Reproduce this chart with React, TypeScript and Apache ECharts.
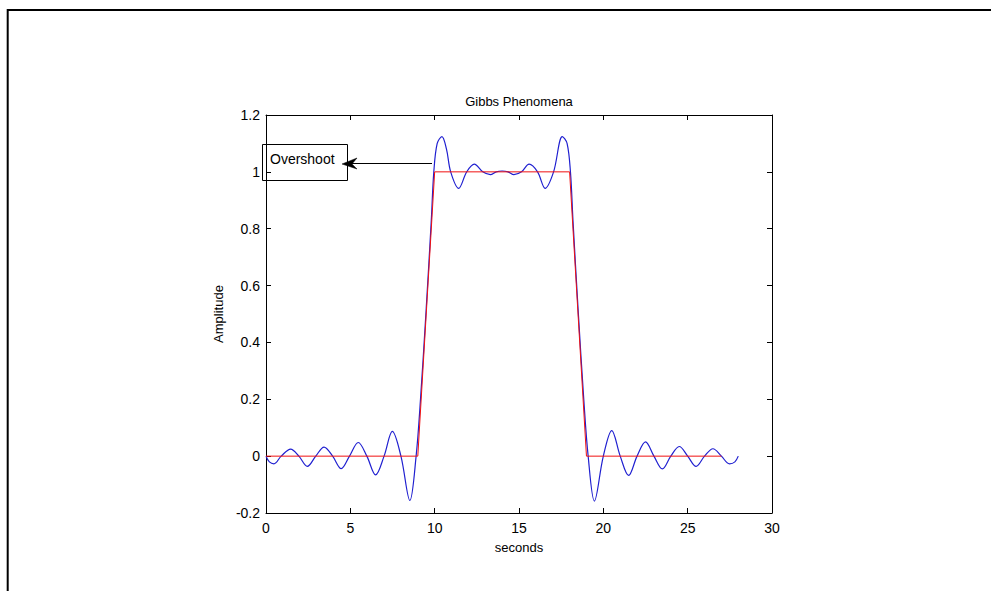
import React, { useEffect, useRef } from "react";
import * as echarts from "echarts";

const xTicks = [0, 5, 10, 15, 20, 25, 30];
const yTicks = [-0.2, 0, 0.2, 0.4, 0.6, 0.8, 1, 1.2];

// ideal (red) pulse
const pulseX = [0, 9, 10, 18, 19, 27];
const pulseY = [0, 0, 1, 1, 0, 0];

// Fourier approximation (blue)
const approxX = [
  0, 0.2, 0.47, 0.9, 1.46, 1.95, 2.45, 2.95, 3.44, 3.95, 4.46, 4.95, 5.47, 5.98,
  6.5, 7.0, 7.49, 8.0, 8.53, 8.9, 9.16, 9.5, 9.8, 9.95, 10.15, 10.43, 10.7,
  10.95, 11.42, 11.9, 12.35, 12.85, 13.3, 13.65, 14.0, 14.35, 14.7, 15.15, 15.6,
  16.1, 16.55, 17.05, 17.57, 17.85, 18.05, 18.2, 18.5, 18.84, 19.1, 19.47, 20.0,
  20.5, 21.0, 21.5, 22.0, 22.5, 23.0, 23.5, 24.0, 24.5, 25.0, 25.5, 26.0, 26.5,
  27.0, 27.48, 27.8, 28.0,
];
const approxY = [
  0, -0.02, -0.027, 0, 0.025, 0, -0.036, 0, 0.032, 0, -0.044, 0, 0.048, 0,
  -0.066, 0, 0.087, 0, -0.156, 0, 0.2, 0.52, 0.83, 1.0, 1.1, 1.124, 1.08,
  1.0, 0.942, 1.0, 1.027, 1.0, 0.99, 1.0, 1.003, 1.0, 0.99, 1.0, 1.027,
  1.0, 0.942, 1.0, 1.124, 1.1, 1.0, 0.83, 0.52, 0.2, 0, -0.158, 0,
  0.09, 0, -0.068, 0, 0.05, 0, -0.045, 0, 0.034, 0, -0.036, 0, 0.026,
  0, -0.027, -0.02, 0,
];

const FONT = "'Liberation Sans', Arial, sans-serif";

export default function App() {
  const ref = useRef<HTMLDivElement>(null);
  useEffect(() => {
    if (!ref.current) return;
    const chart = echarts.init(ref.current, null, { renderer: "svg" });
    const fmt = (v: number) => String(Math.round(v * 10) / 10);
    const axisCommon = {
      axisLine: { show: true, onZero: false, lineStyle: { color: "#000", width: 1 } },
      axisTick: { show: true, inside: true, length: 5, lineStyle: { color: "#000" } },
      splitLine: { show: false },
    };
    chart.setOption({
      animation: false,
      backgroundColor: "#fff",
      textStyle: { fontFamily: FONT },
      grid: { left: 266, top: 115, width: 506, height: 398 },
      xAxis: [
        {
          type: "value",
          min: xTicks[0],
          max: xTicks[xTicks.length - 1],
          interval: 5,
          position: "bottom",
          ...axisCommon,
          axisLabel: { color: "#000", fontSize: 14, margin: 8, fontFamily: FONT, formatter: fmt },
          name: "seconds",
          nameLocation: "middle",
          nameGap: 28,
          nameTextStyle: { color: "#000", fontSize: 13, fontFamily: FONT },
        },
        {
          type: "value",
          min: xTicks[0],
          max: xTicks[xTicks.length - 1],
          interval: 5,
          position: "top",
          ...axisCommon,
          axisLabel: { show: false },
        },
      ],
      yAxis: [
        {
          type: "value",
          min: yTicks[0],
          max: yTicks[yTicks.length - 1],
          interval: 0.2,
          position: "left",
          ...axisCommon,
          axisLabel: { color: "#000", fontSize: 14, margin: 6, fontFamily: FONT, formatter: fmt },
          name: "Amplitude",
          nameLocation: "middle",
          nameGap: 41,
          nameRotate: 90,
          nameTextStyle: { color: "#000", fontSize: 13, fontFamily: FONT },
        },
        {
          type: "value",
          min: yTicks[0],
          max: yTicks[yTicks.length - 1],
          interval: 0.2,
          position: "right",
          ...axisCommon,
          axisLabel: { show: false },
        },
      ],
      series: [
        {
          type: "line",
          data: approxX.map((x, i) => [x, approxY[i]]),
          smooth: 0.35,
          showSymbol: false,
          lineStyle: { color: "#1f1fd0", width: 1.2 },
          z: 2,
        },
        {
          type: "line",
          data: pulseX.map((x, i) => [x, pulseY[i]]),
          showSymbol: false,
          lineStyle: { color: "#f01010", width: 1 },
          z: 3,
        },
      ],
      graphic: [
        {
          type: "polyline",
          shape: { points: [[7.7, 591], [7.7, 10], [991, 10]] },
          style: { stroke: "#000", lineWidth: 2, fill: null },
        },
        {
          type: "text",
          x: 519,
          y: 101,
          style: {
            text: "Gibbs Phenomena",
            fill: "#000",
            font: `13px ${FONT}`,
            textAlign: "center",
            textVerticalAlign: "middle",
          },
        },
        {
          type: "rect",
          shape: { x: 262.5, y: 144.5, width: 85, height: 36 },
          style: { stroke: "#000", lineWidth: 1, fill: null },
        },
        {
          type: "text",
          x: 270,
          y: 159,
          style: {
            text: "Overshoot",
            fill: "#000",
            font: `14px ${FONT}`,
            textAlign: "left",
            textVerticalAlign: "middle",
          },
        },
        {
          type: "line",
          shape: { x1: 352, y1: 163.5, x2: 432, y2: 163.5 },
          style: { stroke: "#000", lineWidth: 1 },
        },
        {
          type: "polygon",
          shape: { points: [[342, 164], [357, 158], [352, 164], [357, 169]] },
          style: { fill: "#000", stroke: "#000", lineWidth: 0.5 },
        },
      ],
    });
    return () => chart.dispose();
  }, []);
  return (
    <div
      ref={ref}
      style={{ position: "absolute", left: 0, top: 0, width: 991, height: 591 }}
    />
  );
}
